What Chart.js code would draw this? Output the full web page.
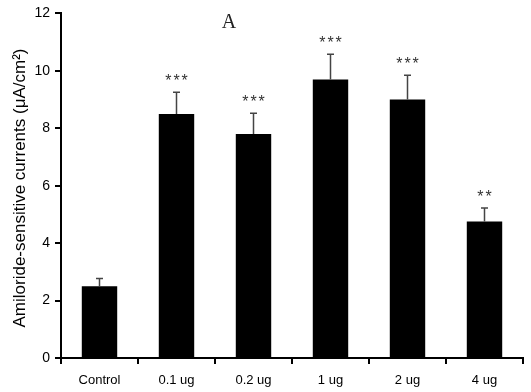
<!DOCTYPE html>
<html>
<head>
<meta charset="utf-8">
<script src="https://cdn.jsdelivr.net/npm/chart.js@4.4.0/dist/chart.umd.min.js"></script>
<style>
  html, body { margin: 0; padding: 0; background: #fff; }
  #wrap { width: 531px; height: 392px; }
</style>
</head>
<body>
<div id="wrap"><canvas id="c" width="531" height="392"></canvas></div>
<script>
// Daten
const categories = ['Control', '0.1 ug', '0.2 ug', '1 ug', '2 ug', '4 ug'];
const means = [2.5, 8.5, 7.8, 9.7, 9.0, 4.75];
const errors = [0.27, 0.75, 0.72, 0.88, 0.85, 0.47];
const stars = ['', '***', '***', '***', '***', '**'];
const yTicks = [0, 2, 4, 6, 8, 10, 12];
const yTitle = 'Amiloride-sensitive currents (\u03bcA/cm\u00b2)';

// Fehlerbalken, Sterne, Achsentitel und Buchstabe "A"
const extrasPlugin = {
    id: 'extras',
    afterDatasetsDraw(chart) {
        const ctx = chart.ctx;
        const y = chart.scales.y;
        const meta = chart.getDatasetMeta(0);
        ctx.save();
        meta.data.forEach(function(bar, i) {
            const x = bar.x;
            const yTop = y.getPixelForValue(means[i]);
            const yErr = y.getPixelForValue(means[i] + errors[i]);
            ctx.strokeStyle = '#444';
            ctx.lineWidth = 1.5;
            ctx.beginPath();
            ctx.moveTo(x, yTop);
            ctx.lineTo(x, yErr);
            ctx.moveTo(x - 3.5, yErr);
            ctx.lineTo(x + 3.5, yErr);
            ctx.stroke();
            if (stars[i]) {
                ctx.fillStyle = '#333';
                ctx.font = '16px "Liberation Sans", Arial, sans-serif';
                ctx.letterSpacing = '2px';
                ctx.textAlign = 'center';
                ctx.textBaseline = 'middle';
                ctx.fillText(stars[i], x + 1, yErr - 11);
            }
        });
        ctx.letterSpacing = '0px';

        // Buchstabe oben
        ctx.fillStyle = '#222';
        ctx.font = '20px "Liberation Serif", "DejaVu Serif", serif';
        ctx.textAlign = 'center';
        ctx.textBaseline = 'middle';
        ctx.fillText('A', 229, 23);

        // Y-Achsentitel
        ctx.fillStyle = '#000';
        ctx.translate(20, 188);
        ctx.rotate(-Math.PI / 2);
        ctx.font = '17px "Liberation Sans", Arial, sans-serif';
        ctx.fillText(yTitle, 0, 0);
        ctx.restore();
    }
};

const config = {
    type: 'bar',
    data: {
        labels: categories,
        datasets: [{
            data: means,
            backgroundColor: '#000',
            borderWidth: 0,
            categoryPercentage: 1.0,
            barPercentage: 0.46
        }]
    },
    options: {
        responsive: false,
        animation: false,
        events: [],
        layout: { padding: { top: 9, right: 8, left: 0, bottom: 0 } },
        plugins: {
            legend: { display: false },
            tooltip: { enabled: false }
        },
        scales: {
            x: {
                offset: true,
                grid: {
                    offset: true,
                    drawOnChartArea: false,
                    drawTicks: true,
                    tickLength: 6,
                    color: '#000',
                    lineWidth: 2
                },
                border: { display: true, color: '#000', width: 2 },
                ticks: {
                    color: '#000',
                    padding: 9,
                    font: { family: '"Liberation Sans", Arial, sans-serif', size: 13 }
                },
                afterFit: function(scale) { scale.height = 34; }
            },
            y: {
                min: 0,
                max: 12,
                afterBuildTicks: function(scale) {
                    scale.ticks = yTicks.map(function(v) { return { value: v }; });
                },
                grid: {
                    drawOnChartArea: false,
                    drawTicks: true,
                    tickLength: 6,
                    color: '#000',
                    lineWidth: 2
                },
                border: { display: true, color: '#000', width: 2 },
                ticks: {
                    color: '#000',
                    padding: 5,
                    font: { family: '"Liberation Sans", Arial, sans-serif', size: 14 }
                },
                afterFit: function(scale) { scale.width = 61; }
            }
        }
    },
    plugins: [extrasPlugin]
};

new Chart(document.getElementById('c').getContext('2d'), config);
</script>
</body>
</html>
